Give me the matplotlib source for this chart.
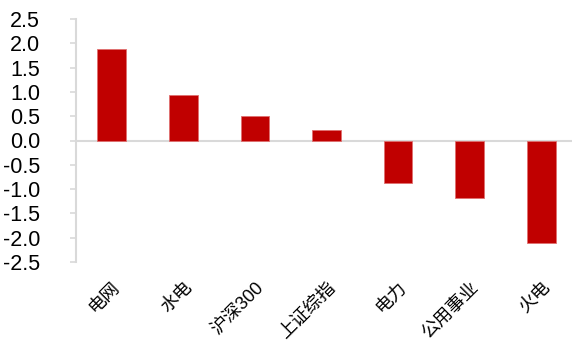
import matplotlib.pyplot as plt
import numpy as np

plt.rcParams['font.family'] = ['Liberation Sans', 'Noto Sans CJK SC', 'DejaVu Sans']

categories = ['电网', '水电', '沪深300', '上证综指', '电力', '公用事业', '火电']
values = [1.88, 0.93, 0.51, 0.22, -0.88, -1.18, -2.10]
yticks = [2.5, 2.0, 1.5, 1.0, 0.5, 0.0, -0.5, -1.0, -1.5, -2.0, -2.5]

fig = plt.figure(figsize=(5.72, 3.47), dpi=100)
ax = fig.add_axes([76 / 572, 1 - 262 / 347, (572 - 76) / 572, (262 - 19) / 347])

x = np.arange(len(categories))
ax.bar(x, values, width=0.4, color='#C00000', edgecolor='#e07070', linewidth=0.6, zorder=3)
ax.axhline(0, color='#d9d9d9', linewidth=1.5, zorder=2)

ax.set_xlim(-0.5, 6.43)
ax.set_ylim(-2.5, 2.5)
ax.set_yticks(yticks)
ax.set_yticklabels(['%.1f' % v for v in yticks], fontsize=15.5)
ax.tick_params(axis='y', colors='#d9d9d9', labelcolor='black', length=4, width=1.2, pad=22)

ax.set_xticks(x)
ax.set_xticklabels(categories, rotation=45, ha='right', va='top', rotation_mode='anchor',
                   fontsize=13, fontweight='light')
ax.tick_params(axis='x', length=0, pad=12)

for s in ['top', 'right', 'bottom']:
    ax.spines[s].set_visible(False)
ax.spines['left'].set_color('#d9d9d9')
ax.spines['left'].set_linewidth(1.5)

fig.savefig('out.png', dpi=100)
